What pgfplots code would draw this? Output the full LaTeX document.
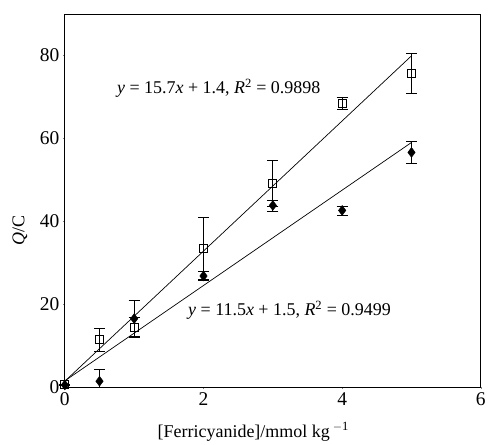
\documentclass[border=0pt]{standalone}
\usepackage{pgfplots}
\pgfplotsset{compat=1.18}
\usepackage{fontspec}
\setmainfont{Liberation Serif}
\begin{document}
\begin{tikzpicture}
\begin{axis}[
  scale only axis,
  width=417bp, height=374bp,
  xmin=0, xmax=6, ymin=0, ymax=90,
  xtick={0,2,4,6}, ytick={0,20,40,60,80},
  xtick pos=left, ytick pos=left,
  font=\fontsize{18bp}{21bp}\selectfont,
  tick label style={font=\fontsize{19.5bp}{22bp}\selectfont},
  /pgf/number format/assume math mode=true,
  xticklabel={\pgfmathprintnumber[assume math mode=true]{\tick}},
  yticklabel={\pgfmathprintnumber[assume math mode=true]{\tick}},
  tick align=outside, major tick length=2bp,
  axis line style={line width=0.9bp},
  clip=false,
  xlabel={[Ferricyanide]/mmol kg\,\textsuperscript{$-$1}},
  ylabel={\textit{Q}/C},
  xlabel style={at={(axis description cs:0.453,-0.12)}, anchor=center},
  ylabel style={at={(axis description cs:-0.108,0.42)}, anchor=center, rotate=0},
  error bars/error mark options={rotate=90, mark size=5.5bp, line width=0.7bp},
  error bars/error bar style={line width=0.7bp},
]
% fit lines
\addplot[black, line width=0.7bp, no marks] coordinates {(0,1.4) (5,79.9)};
\addplot[black, line width=0.7bp, no marks] coordinates {(0,1.5) (5,59.0)};
% squares
\addplot[black, only marks, mark=square, mark size=4bp, mark options={fill=white, line width=0.8bp},
  error bars/.cd, y dir=both, y explicit]
  table[x=x, y=y, y error plus=ep, y error minus=em] {
x y ep em
0 0.6 0 0
0.5 11.4 2.8 2.8
1 14.5 2.2 2.2
2 33.4 7.5 7.5
3 49.2 5.6 5.6
4 68.4 1.4 1.4
5 75.6 4.8 4.8
};
% diamonds
\addplot[black, only marks, mark=diamond*, mark size=5bp,
  error bars/.cd, y dir=both, y explicit]
  table[x=x, y=y, y error plus=ep, y error minus=em] {
x y ep em
0 0.5 0 0
0.5 1.4 2.8 1.4
1 16.5 4.4 4.4
2 26.8 1.0 1.0
3 43.8 1.3 1.3
4 42.6 1.1 1.1
5 56.6 2.6 2.6
};
\node at (axis cs:2.22,72.1) {\textit{y} = 15.7\textit{x} + 1.4, \textit{R}\textsuperscript{2} = 0.9898};
\node at (axis cs:3.24,18.5) {\textit{y} = 11.5\textit{x} + 1.5, \textit{R}\textsuperscript{2} = 0.9499};
\path ([xshift=-65bp,yshift=-55bp]rel axis cs:0,0) rectangle ([xshift=7bp,yshift=14bp]rel axis cs:1,1);
\end{axis}
\end{tikzpicture}
\end{document}
